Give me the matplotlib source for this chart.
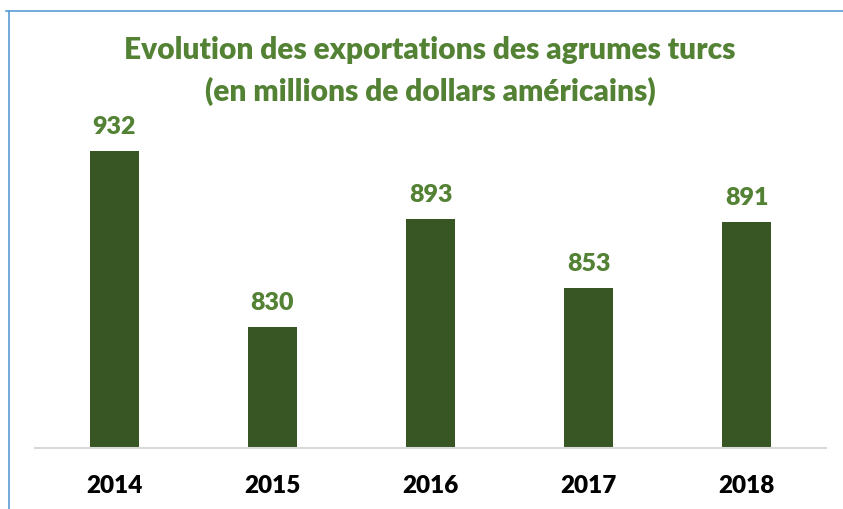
import matplotlib
matplotlib.use("Agg")
import matplotlib.pyplot as plt
from matplotlib.lines import Line2D

years = ["2014", "2015", "2016", "2017", "2018"]
values = [932, 830, 893, 853, 891]
title = "Evolution des exportations des agrumes turcs\n(en millions de dollars américains)"

bar_color = "#375623"
green_text = "#548235"

fig = plt.figure(figsize=(8.43, 5.10), dpi=100)
W, H = 843, 510
ax = fig.add_axes([35 / W, (H - 449) / H, (826 - 35) / W, (449 - 104) / H])

x = range(len(years))
bars = ax.bar(x, values, width=0.31, color=bar_color)
ax.set_xlim(-0.5, len(years) - 0.5)
ax.set_ylim(760, 960)

for xi, v in zip(x, values):
    ax.annotate(str(v), (xi, v), xytext=(0, 10), textcoords="offset points",
                ha="center", va="bottom", fontsize=18, fontweight="heavy",
                color=green_text, family="Lato")

ax.set_xticks(list(x))
ax.set_xticklabels(years, fontsize=17.5, fontweight="heavy", family="Lato", color="black")
ax.tick_params(axis="x", length=0, pad=19)
ax.set_yticks([])
for s in ["top", "right", "left"]:
    ax.spines[s].set_visible(False)
ax.spines["bottom"].set_color("#D9D9D9")
ax.spines["bottom"].set_linewidth(1.5)

fig.text(430 / W, 1 - 71 / H, title, ha="center", va="center", fontsize=21.5,
         fontweight="heavy", color=green_text, family="Lato", linespacing=1.5)

# outer frame lines (partial border visible in reference)
fig.add_artist(Line2D([6 / W, 1.0], [1 - 12 / H, 1 - 12 / H], color="#5B9BD5", lw=1.2,
                      transform=fig.transFigure))
fig.add_artist(Line2D([9 / W, 9 / W], [0, 1 - 12 / H], color="#5B9BD5", lw=1.2,
                      transform=fig.transFigure))

fig.savefig("out.png", dpi=100)
